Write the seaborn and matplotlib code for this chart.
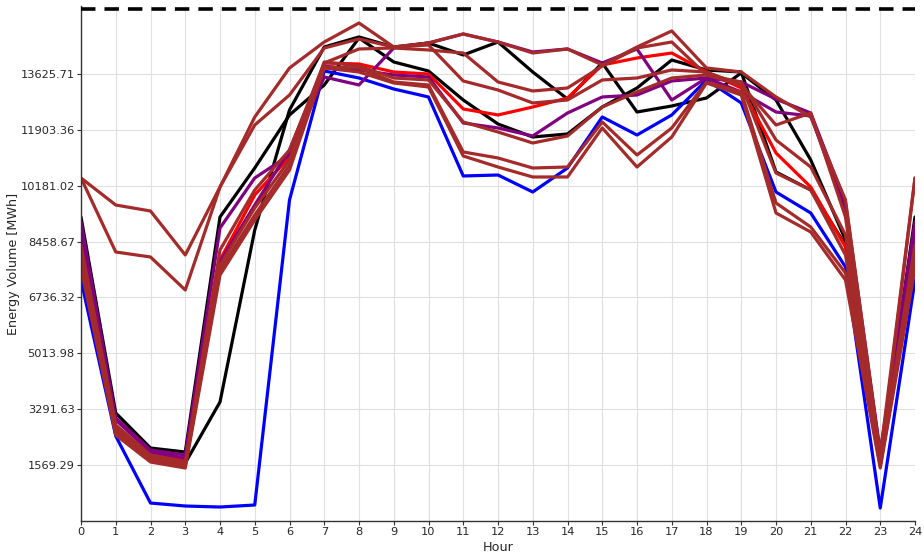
import numpy as np
import pandas as pd
import matplotlib
matplotlib.use("Agg")
import matplotlib.pyplot as plt
import seaborn as sns

hours = list(range(25))

black_a = [9216, 3173, 2093, 1970, 9216, 10727, 12362, 13287, 14736, 13996, 13718, 12824, 12084, 11683, 11776, 12608, 13194, 14057, 13749, 13687, 10604, 10049, 8353, 1723, 9216]
black_b = [8507, 2649, 1785, 1631, 3512, 8815, 12516, 14458, 14767, 14458, 14582, 14212, 14612, 13687, 12855, 13965, 12454, 12639, 12886, 13657, 12824, 10974, 8507, 1785, 8507]
blue_1 = [7274, 2463, 397, 305, 274, 336, 9741, 13718, 13502, 13163, 12917, 10481, 10511, 9987, 10727, 12300, 11745, 12362, 13441, 12732, 9987, 9340, 7675, 243, 7274]
red_1 = [8199, 2710, 1878, 1723, 7890, 9895, 11066, 13965, 13934, 13687, 13626, 12547, 12362, 12608, 12886, 13903, 14119, 14273, 13687, 13194, 11190, 10141, 8291, 1662, 8199]
purple_1 = [9062, 3019, 2032, 1878, 8877, 10419, 11128, 13533, 13287, 14427, 14582, 14859, 14612, 14304, 14397, 13965, 14397, 12824, 13502, 13379, 12850, 12423, 9648, 1970, 9062]
purple_2 = [8754, 2957, 1970, 1785, 7829, 9586, 11282, 13872, 13749, 13595, 13533, 12115, 11961, 11714, 12423, 12917, 12978, 13410, 13502, 13071, 12454, 12331, 9432, 1878, 8754]
brown_hi_a = [10419, 9586, 9401, 8045, 10141, 12300, 13811, 14612, 15198, 14458, 14582, 14859, 14612, 14273, 14397, 13903, 14458, 14952, 13811, 13687, 12917, 12300, 9741, 1878, 10419]
brown_hi_b = [10419, 8137, 7983, 6965, 10141, 12053, 12978, 14427, 14705, 14458, 14520, 13410, 13132, 12732, 12824, 13441, 13502, 13749, 13687, 13287, 12053, 12423, 9216, 1662, 10419]
brown_c = [8353, 2803, 1878, 1662, 8199, 10049, 11282, 13965, 14397, 14427, 14366, 14273, 13379, 13102, 13194, 13872, 14427, 14612, 13595, 13379, 11591, 10758, 8661, 1631, 8353]
brown_e = [7829, 2587, 1723, 1538, 7582, 9278, 10820, 13842, 13811, 13379, 13287, 11221, 11036, 10727, 10758, 12146, 11128, 11961, 13379, 13071, 9648, 8908, 7490, 1538, 7829]
brown_f = [7644, 2494, 1662, 1477, 7428, 9124, 10666, 13811, 13687, 13348, 13225, 11097, 10758, 10450, 10450, 11961, 10758, 11683, 13348, 12978, 9340, 8754, 7274, 1477, 7644]
brown_g = [8045, 2710, 1785, 1600, 7736, 9494, 10974, 13996, 13872, 13502, 13441, 12146, 11837, 11498, 11714, 12608, 13071, 13502, 13595, 13287, 10573, 10049, 8045, 1600, 8045]

capacity = 15630

ytick_values = [1569.29, 3291.63, 5013.98, 6736.32, 8458.67, 10181.02, 11903.36, 13625.71]
ytick_labels = ["1569.29", "3291.63", "5013.98", "6736.32", "8458.67", "10181.02", "11903.36", "13625.71"]

series = {
    "black_a": (black_a, "black"),
    "black_b": (black_b, "black"),
    "blue_1": (blue_1, "blue"),
    "red_1": (red_1, "red"),
    "purple_1": (purple_1, "purple"),
    "purple_2": (purple_2, "purple"),
    "brown_hi_a": (brown_hi_a, "brown"),
    "brown_hi_b": (brown_hi_b, "brown"),
    "brown_c": (brown_c, "brown"),
    "brown_e": (brown_e, "brown"),
    "brown_f": (brown_f, "brown"),
    "brown_g": (brown_g, "brown"),
}

rows = []
for name, (vals, col) in series.items():
    for h, v in zip(hours, vals):
        rows.append({"Hour": h, "Energy": v, "series": name})
df = pd.DataFrame(rows)
palette = {name: col for name, (vals, col) in series.items()}

sns.set_style("ticks")
plt.rcParams["font.family"] = ["DejaVu Sans"]

fig = plt.figure(figsize=(9.24, 5.53), dpi=100)
ax = fig.add_axes([81 / 924, (553 - 521) / 553, 834 / 924, (521 - 6) / 553])

sns.lineplot(data=df, x="Hour", y="Energy", hue="series", palette=palette,
             hue_order=list(series.keys()), legend=False, linewidth=2.3, ax=ax,
             estimator=None, sort=False)

ax.axhline(capacity, color="black", linestyle=(0, (4, 2.5)), linewidth=2.6, clip_on=False, zorder=5)

ax.set_xlim(0, 24)
ax.set_ylim(-157, 15722)
ax.set_xticks(hours)
ax.set_xticklabels([str(h) for h in hours], fontsize=8.2)
ax.set_yticks(ytick_values)
ax.set_yticklabels(ytick_labels, fontsize=8.2)
ax.grid(True, color="#e0e0e0", linewidth=0.8)
ax.set_axisbelow(True)
for s in ["top", "right"]:
    ax.spines[s].set_visible(False)
for s in ["left", "bottom"]:
    ax.spines[s].set_color("#333333")
    ax.spines[s].set_linewidth(1.0)
ax.tick_params(axis="both", length=3, width=0.8, color="#333333", pad=1.5)
ax.set_xlabel("Hour", fontsize=9.2, labelpad=2.5)
ax.set_ylabel("Energy Volume [MWh]", fontsize=9.2, labelpad=0)

fig.savefig("out.png", dpi=100)
